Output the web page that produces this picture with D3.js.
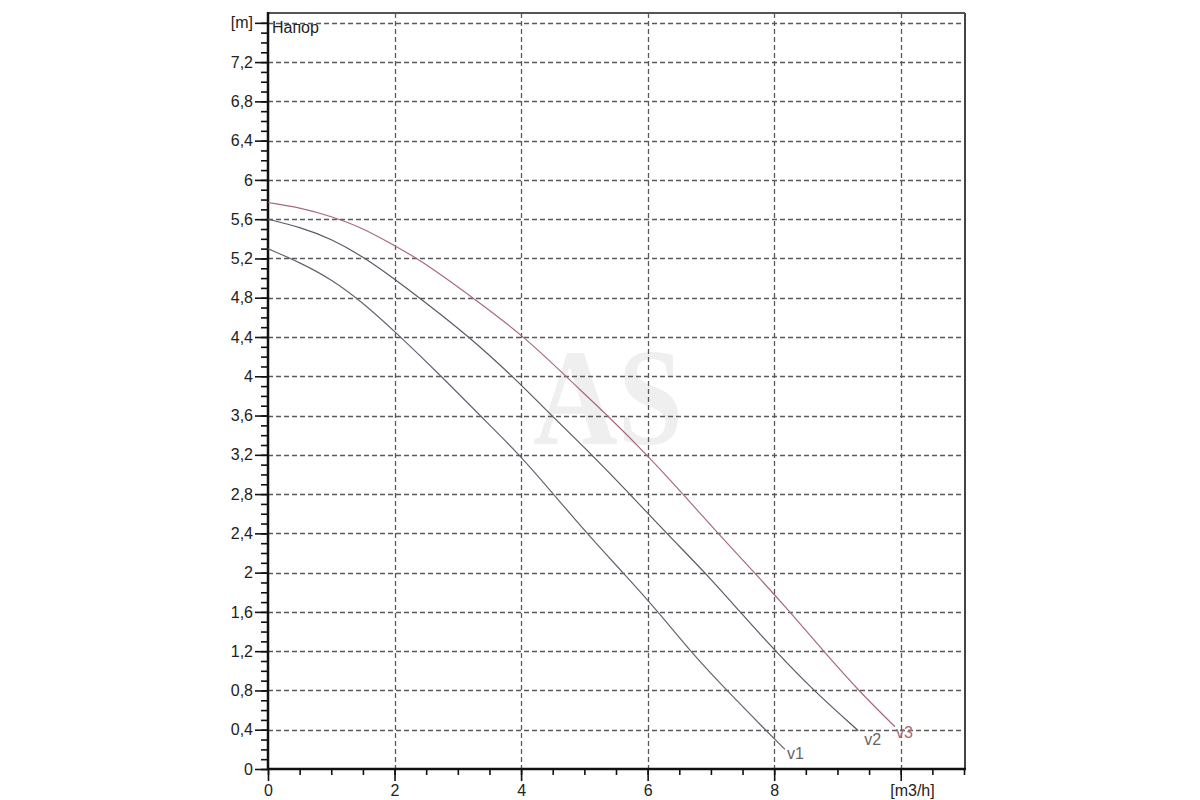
<!DOCTYPE html>
<html>
<head>
<meta charset="utf-8">
<script src="https://cdn.jsdelivr.net/npm/d3@7"></script>
<style>
  html, body { margin: 0; padding: 0; background: #fff; }
  svg { display: block; }
  text { font-family: "Liberation Sans", Arial, sans-serif; }
</style>
</head>
<body>
<svg id="chart" width="1200" height="800"></svg>
<script>
// ---- data ----
const seriesNames = ["v1", "v2", "v3"];
const v1 = [[0,5.3],[0.5,5.16],[1.0,4.99],[1.5,4.75],[2.0,4.46],[2.74,4.0],[3.35,3.6],[3.98,3.2],[4.51,2.8],[5.04,2.4],[5.61,2.0],[6.17,1.6],[6.67,1.2],[7.25,0.8],[7.86,0.4],[8.17,0.2]];
const v2 = [[0,5.6],[0.5,5.52],[1.0,5.4],[1.5,5.22],[2.0,4.99],[2.37,4.81],[3.19,4.4],[3.98,3.93],[4.48,3.6],[5.12,3.2],[5.72,2.8],[6.3,2.4],[6.91,2.0],[7.46,1.6],[8.02,1.2],[8.62,0.8],[9.33,0.39]];
const v3 = [[0,5.77],[0.5,5.72],[1.0,5.63],[1.5,5.51],[2.0,5.33],[2.37,5.2],[3.24,4.8],[4.06,4.4],[4.77,3.96],[5.37,3.6],[5.99,3.2],[6.56,2.8],[7.11,2.4],[7.69,2.0],[8.25,1.6],[8.78,1.2],[9.33,0.8],[9.91,0.43]];
const yTickLabels = [0,0.4,0.8,1.2,1.6,2,2.4,2.8,3.2,3.6,4,4.4,4.8,5.2,5.6,6,6.4,6.8,7.2];
const yUnit = "[m]";
const yUnitValue = 7.6;
const xTickLabels = [0,2,4,6,8];
const xUnit = "[m3/h]";
const xUnitValue = 10;
const chartTitle = "Напор";
const watermark = "AS";

// ---- layout ----
const svg = d3.select("#chart");
const pLeft = 268, pRight = 964, pTop = 13, pBottom = 769;
const x = d3.scaleLinear().domain([0, 11]).range([pLeft, pRight]);
const y = d3.scaleLinear().domain([0, 7.7]).range([pBottom, pTop]);
const fmt = d => String(+(+d).toFixed(1)).replace(".", ",");

// watermark
svg.append("text")
  .attr("x", 533).attr("y", 444)
  .attr("textLength", 150).attr("lengthAdjust", "spacingAndGlyphs")
  .style("font-family", "'Liberation Serif', 'DejaVu Serif', serif")
  .style("font-size", "137px").style("font-weight", "bold")
  .attr("fill", "#efefef")
  .text(watermark);

// grid
const gridColor = "#5a5a5a";
const hGrid = d3.range(1, 20).map(i => +(i * 0.4).toFixed(1));
svg.append("g").selectAll("line").data(hGrid).join("line")
  .attr("x1", pLeft).attr("x2", pRight)
  .attr("y1", d => Math.round(y(d)) + 0.5).attr("y2", d => Math.round(y(d)) + 0.5)
  .attr("stroke", gridColor).attr("stroke-width", 1.3).attr("stroke-dasharray", "5,3");
const vGrid = [2,4,6,8,10];
svg.append("g").selectAll("line").data(vGrid).join("line")
  .attr("y1", pTop).attr("y2", pBottom)
  .attr("x1", d => Math.round(x(d)) + 0.5).attr("x2", d => Math.round(x(d)) + 0.5)
  .attr("stroke", gridColor).attr("stroke-width", 1.3).attr("stroke-dasharray", "5,3");

// frame top / right
svg.append("line").attr("x1", pLeft).attr("x2", pRight + 1).attr("y1", pTop).attr("y2", pTop)
  .attr("stroke", "#555").attr("stroke-width", 2);
svg.append("line").attr("x1", pRight + 1).attr("x2", pRight + 1).attr("y1", pTop).attr("y2", pBottom)
  .attr("stroke", "#444").attr("stroke-width", 2);

// y axis minor ticks
const yMinor = d3.range(0, 77).map(i => +(i * 0.1).toFixed(1));
svg.append("g").attr("transform", `translate(${pLeft},0)`)
  .call(d3.axisLeft(y).tickValues(yMinor).tickSize(7).tickFormat(""))
  .call(g => g.select(".domain").remove())
  .call(g => g.selectAll("line").attr("stroke", "#111").attr("stroke-width", 1.6));
// y axis major
const yAxisG = svg.append("g").attr("transform", `translate(${pLeft},0)`)
  .call(d3.axisLeft(y).tickValues(yTickLabels.concat([yUnitValue])).tickSize(13).tickPadding(2)
    .tickFormat(d => d === yUnitValue ? yUnit : fmt(d)));
yAxisG.select(".domain").remove();
yAxisG.selectAll("line").attr("stroke", "#111").attr("stroke-width", 1.6);
yAxisG.selectAll("text").style("font-size", "16px").attr("fill", "#222")
  .style("font-family", "'Liberation Sans', Arial, sans-serif");

// x axis minor ticks
const xMinor = d3.range(0, 23).map(i => i * 0.5);
svg.append("g").attr("transform", `translate(0,${pBottom})`)
  .call(d3.axisBottom(x).tickValues(xMinor).tickSize(6).tickFormat(""))
  .call(g => g.select(".domain").remove())
  .call(g => g.selectAll("line").attr("stroke", "#111").attr("stroke-width", 1.6));
// x axis major
const xAxisG = svg.append("g").attr("transform", `translate(0,${pBottom})`)
  .call(d3.axisBottom(x).tickValues(xTickLabels.concat([xUnitValue])).tickSize(12).tickPadding(4)
    .tickFormat(d => d === xUnitValue ? xUnit : fmt(d)));
xAxisG.select(".domain").remove();
xAxisG.selectAll("line").attr("stroke", "#111").attr("stroke-width", 1.6);
xAxisG.selectAll("text").style("font-size", "16px").attr("fill", "#222")
  .style("font-family", "'Liberation Sans', Arial, sans-serif");
xAxisG.selectAll(".tick").filter(d => d === xUnitValue).select("text")
  .attr("text-anchor", "start").attr("x", -11);

// axis lines
svg.append("line").attr("x1", pLeft).attr("x2", pLeft).attr("y1", pTop - 1).attr("y2", pBottom + 1)
  .attr("stroke", "#111").attr("stroke-width", 2.5);
svg.append("line").attr("x1", pLeft).attr("x2", pRight + 2).attr("y1", pBottom).attr("y2", pBottom)
  .attr("stroke", "#111").attr("stroke-width", 2.5);

// title inside plot
svg.append("text").attr("x", pLeft + 4).attr("y", y(yUnitValue) + 10)
  .style("font-size", "16px").attr("fill", "#222").text(chartTitle);

// curves
const series = [
  { name: seriesNames[0], data: v1, color: "#6a6070", labelColor: "#666", dx: 2, dy: 10 },
  { name: seriesNames[1], data: v2, color: "#5e5666", labelColor: "#666", dx: 6, dy: 14 },
  { name: seriesNames[2], data: v3, color: "#a86a78", labelColor: "#a86a78", dx: 1, dy: 11 }
];
const line = d3.line().x(d => x(d[0])).y(d => y(d[1])).curve(d3.curveBasis);
series.forEach(s => {
  svg.append("path").datum(s.data).attr("d", line)
    .attr("fill", "none").attr("stroke", s.color).attr("stroke-width", 1.2);
  const last = s.data[s.data.length - 1];
  svg.append("text").attr("x", x(last[0]) + s.dx).attr("y", y(last[1]) + s.dy)
    .style("font-size", "16px").attr("fill", s.labelColor).text(s.name);
});
</script>
</body>
</html>
